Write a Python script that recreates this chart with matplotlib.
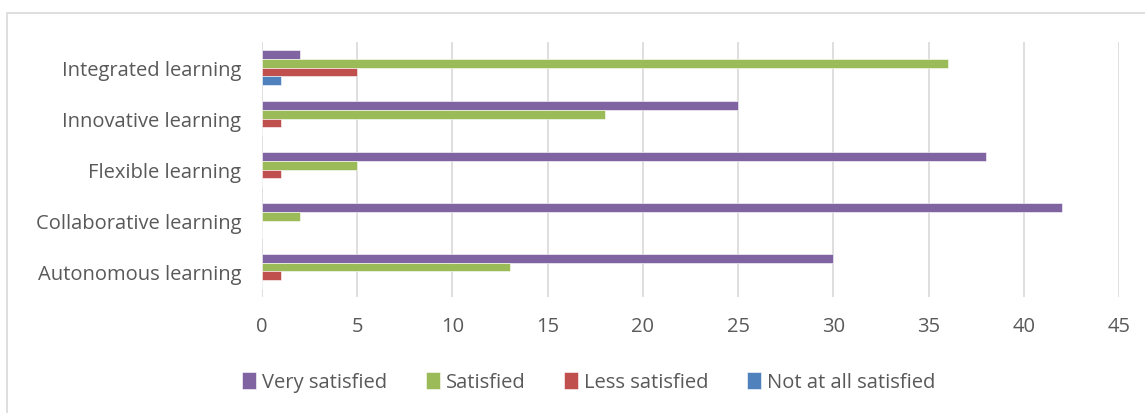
import numpy as np
import matplotlib.pyplot as plt
from matplotlib.patches import Rectangle

categories = ['Autonomous learning', 'Collaborative learning', 'Flexible learning',
              'Innovative learning', 'Integrated learning']
very_satisfied = [30, 42, 38, 25, 2]
satisfied = [13, 2, 5, 18, 36]
less_satisfied = [1, 0, 1, 1, 5]
not_at_all = [0, 0, 0, 0, 1]

series = [('Very satisfied', very_satisfied, '#8064A2'),
          ('Satisfied', satisfied, '#9BBB59'),
          ('Less satisfied', less_satisfied, '#C0504D'),
          ('Not at all satisfied', not_at_all, '#4F81BD')]

plt.rcParams['font.family'] = ['Open Sans', 'DejaVu Sans']

fig = plt.figure(figsize=(11.45, 4.14), dpi=100)
ax = fig.add_axes([0.2288, 0.2802, 0.7485, 0.6159])

fig.patches.append(Rectangle((7 / 1145, -0.1), 1.2, 1 - 14 / 414 + 0.1,
                             transform=fig.transFigure, fill=False,
                             edgecolor='#D9D9D9', linewidth=1.2))

y = np.arange(len(categories))
h = 0.167
offsets = [1.5, 0.5, -0.5, -1.5]
for (name, vals, color), off in zip(series, offsets):
    ax.barh(y + off * h, vals, height=h, color=color, label=name,
            edgecolor='white', linewidth=0.4, zorder=3)

ax.set_xlim(0, 45)
ax.set_ylim(-0.5, 4.5)
ax.set_xticks(range(0, 46, 5))
ax.set_yticks(y)
ax.set_yticklabels(categories)
ax.grid(axis='x', color='#D9D9D9', linewidth=1.2, zorder=0)
for s in ax.spines.values():
    s.set_visible(False)
ax.tick_params(length=0, labelsize=14.5, colors='#595959')
ax.tick_params(axis='x', pad=14)
ax.tick_params(axis='y', pad=15)

fig.legend(loc='center', bbox_to_anchor=(0.514, 0.075), ncol=4, frameon=False,
           fontsize=14.5, labelcolor='#595959', handlelength=0.7, handleheight=0.9,
           handletextpad=0.3, columnspacing=1.9)

fig.savefig('out.png', dpi=100)
